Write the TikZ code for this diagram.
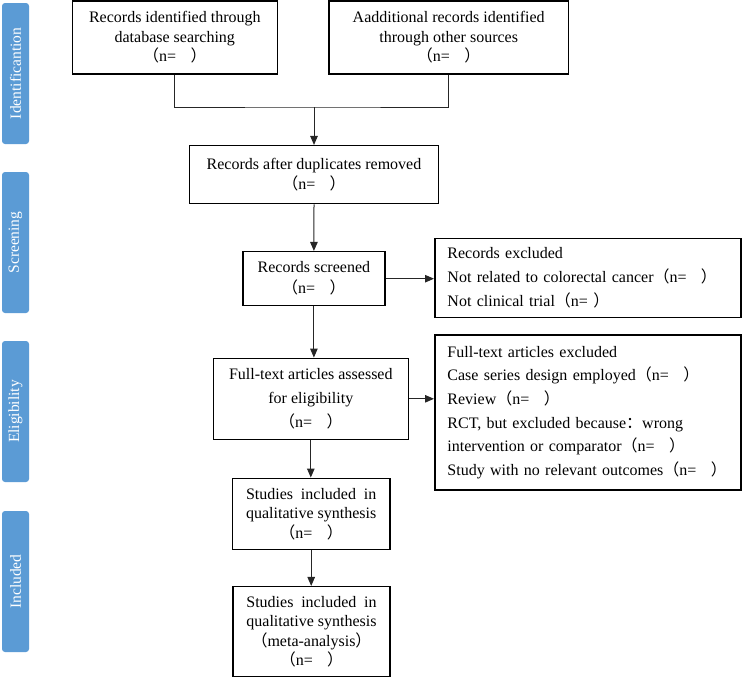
\documentclass[tikz,border=0pt]{standalone}
\usepackage{fontspec}
\usepackage{calc}
\setmainfont{Liberation Serif}
\newfontfamily\cjkfont{Noto Sans CJK SC}
\usetikzlibrary{arrows.meta}
\definecolor{barblue}{HTML}{5B9BD5}
\newcommand\lpar{{\cjkfont （}}
\newcommand\rpar{{\cjkfont ）}}
\newcommand\cjkcolon{{\cjkfont ：}}
\newcommand\ncount{\lpar n=\hspace{0.9em}\rpar}
\newcommand\nshort{\lpar n= \rpar}
\newcommand\studies{\makebox[\widthof{qualitative synthesis}][s]{Studies included in}}
\begin{document}
\begin{tikzpicture}[x=1pt,y=-1pt,
  box/.style={draw=black, line width=1.5pt, inner sep=0pt, align=center,
    font=\fontsize{16}{19.5}\selectfont},
  sidebox/.style={draw=black, line width=1.5pt, align=left, inner xsep=12.7pt,
    inner ysep=0pt, text width=281pt, anchor=west,
    font=\fontsize{16}{23.6}\selectfont},
  bar/.style={fill=barblue, rounded corners=3pt, rotate=90, minimum width=141pt,
    minimum height=27pt, inner sep=0pt, text=white,
    font=\fontsize{15.5}{18}\selectfont},
  conn/.style={line width=1pt, draw=black!85},
  arr/.style={conn, -{Triangle[length=9pt,width=7.5pt]}}]
\useasboundingbox (0,0) rectangle (743,678);

% phase bars
\node[bar] (bar1) at (15.5,73.5) {Identificantion};
\node[bar] (bar2) at (15.5,242.5) {Screening};
\node[bar] (bar3) at (15.5,411.5) {Eligibility};
\node[bar] (bar4) at (15.5,581.5) {Included};

% boxes
\node[box, minimum width=205pt, minimum height=73pt] (b1) at (174.8,37.5)
  {Records identified through\\database searching\\\ncount};
\node[box, minimum width=239.3pt, minimum height=73pt] (b2) at (448.7,37.5)
  {Aadditional records identified\\through other sources\\\ncount};
\node[box, minimum width=248.6pt, minimum height=58pt] (b3) at (314,174.7)
  {Records after duplicates removed\\\ncount};
\node[box, minimum width=142.3pt, minimum height=54pt,
  font=\fontsize{16}{21}\selectfont] (b4) at (313.9,278.7)
  {Records screened\\\ncount};
\node[sidebox, minimum height=79pt] (b5) at (434,277.8)
  {Records excluded\\Not related to colorectal cancer\ncount\\Not clinical trial\nshort};
\node[box, minimum width=195pt, minimum height=81pt,
  font=\fontsize{16}{24}\selectfont] (b6) at (310.8,398.8)
  {Full-text articles assessed\\for eligibility\\\ncount};
\node[sidebox, minimum height=155pt] (b7) at (434,412.5)
  {Full-text articles excluded\\Case series design employed\ncount\\Review\ncount\\RCT, but excluded because\cjkcolon wrong\\intervention or comparator\ncount\\Study with no relevant outcomes\ncount};
\node[box, minimum width=157.7pt, minimum height=71pt] (b8) at (311.2,513.8)
  {\studies\\qualitative synthesis\\\ncount};
\node[box, minimum width=157pt, minimum height=90pt] (b9) at (311.5,631.7)
  {\studies\\qualitative synthesis\\\lpar meta-analysis\rpar\\\ncount};

% connectors
\coordinate (j) at (314,107);
\draw[conn] (b1.south) |- (j) -| (b2.south);
\draw[arr] (j) -- (b3.north);
\draw[arr] (b3.south) -- (b4.north);
\draw[arr] (b4.east) -- (b5.west |- b4.east);
\draw[arr] (b4.south) -- (b4.south |- b6.north);
\draw[arr] (b6.east) -- (b7.west |- b6.east);
\draw[arr] (b6.south) -- (b6.south |- b8.north);
\draw[arr] (b8.south) -- (b8.south |- b9.north);
\end{tikzpicture}
\end{document}
